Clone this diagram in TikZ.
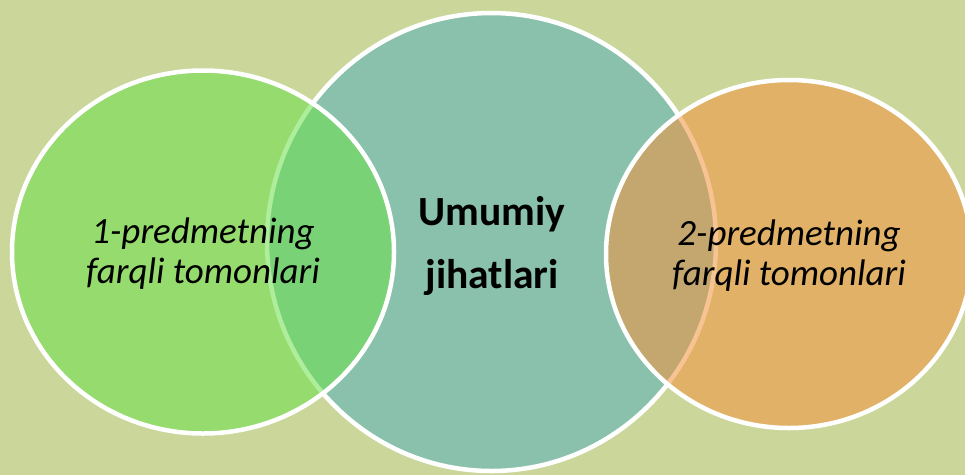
\documentclass[tikz,border=0pt]{standalone}
\usepackage{fontspec}
\setmainfont{Carlito}
\definecolor{bgcol}{RGB}{203,215,154}
\definecolor{leftcol}{RGB}{108,224,74}
\definecolor{midcol}{RGB}{138,193,173}
\definecolor{rightcol}{RGB}{243,147,60}
\tikzset{
  ring/.style={draw=white, line width=4.5pt},
  sidefill/.style={fill opacity=0.55},
  sidetext/.style={align=center, font=\fontsize{37}{40}\selectfont\itshape, text=black},
  midtext/.style={align=center, font=\fontsize{41.5}{63}\selectfont\bfseries, text=black}
}
\begin{document}
\begin{tikzpicture}[x=1pt,y=-1pt]
  \useasboundingbox (0,0) rectangle (965,475);
  \fill[bgcol] (0,0) rectangle (965,475);
  % centre circle
  \fill[midcol] (491.5,242) ellipse [x radius=224.5pt, y radius=229pt];
  \draw[ring] (491.5,242) ellipse [x radius=224.5pt, y radius=229pt];
  % left circle
  \fill[leftcol, sidefill] (203,252) ellipse [x radius=191pt, y radius=181.5pt];
  \draw[ring] (203,252) ellipse [x radius=191pt, y radius=181.5pt];
  % right circle
  \fill[rightcol, sidefill] (789,254) ellipse [x radius=183pt, y radius=174pt];
  \draw[ring] (789,254) ellipse [x radius=183pt, y radius=174pt];
  % texts
  \node[sidetext] (lefttext) at (203,254) {1-predmetning\\farqli tomonlari};
  \node[midtext] (midtext) at (492,246) {Umumiy\\jihatlari};
  \node[sidetext] (righttext) at (789,256) {2-predmetning\\farqli tomonlari};
\end{tikzpicture}
\end{document}
